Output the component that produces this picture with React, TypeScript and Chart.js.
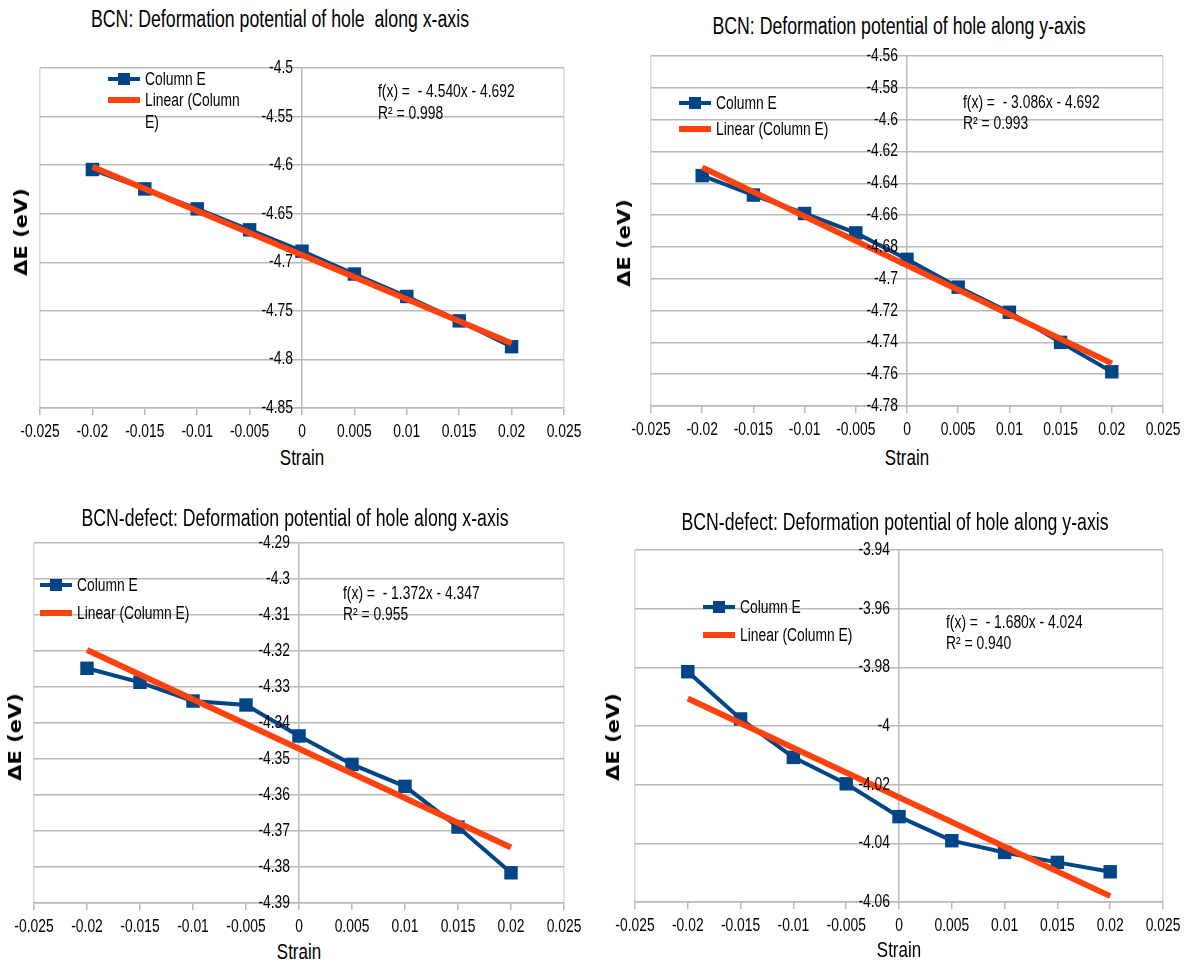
import React, { useEffect, useRef } from "react";
import { Chart, registerables } from "chart.js";
Chart.register(...registerables);

// ---------- data ----------
const strain = [-0.02, -0.015, -0.01, -0.005, 0, 0.005, 0.01, 0.015, 0.02];
const xTicks = [-0.025, -0.02, -0.015, -0.01, -0.005, 0, 0.005, 0.01, 0.015, 0.02, 0.025];
const xTickLabels = ["-0.025", "-0.02", "-0.015", "-0.01", "-0.005", "0", "0.005", "0.01", "0.015", "0.02", "0.025"];
const trendX = [-0.02, 0.02];

const bcnXValues = [-4.6045, -4.6245, -4.645, -4.6666, -4.6886, -4.7121, -4.7352, -4.7603, -4.7869];
const bcnXTrend = [-4.6017, -4.7834];
const bcnXYTicks = [-4.5, -4.55, -4.6, -4.65, -4.7, -4.75, -4.8, -4.85];
const bcnXYLabels = ["-4.5", "-4.55", "-4.6", "-4.65", "-4.7", "-4.75", "-4.8", "-4.85"];

const bcnYValues = [-4.6352, -4.6474, -4.659, -4.6712, -4.6878, -4.7053, -4.7211, -4.74, -4.7585];
const bcnYTrend = [-4.630, -4.7532];
const bcnYYTicks = [-4.56, -4.58, -4.6, -4.62, -4.64, -4.66, -4.68, -4.7, -4.72, -4.74, -4.76, -4.78];
const bcnYYLabels = ["-4.56", "-4.58", "-4.6", "-4.62", "-4.64", "-4.66", "-4.68", "-4.7", "-4.72", "-4.74", "-4.76", "-4.78"];

const defXValues = [-4.3248, -4.3287, -4.3339, -4.335, -4.3436, -4.3515, -4.3576, -4.3689, -4.3816];
const defXTrend = [-4.3197, -4.3746];
const defXYTicks = [-4.29, -4.3, -4.31, -4.32, -4.33, -4.34, -4.35, -4.36, -4.37, -4.38, -4.39];
const defXYLabels = ["-4.29", "-4.3", "-4.31", "-4.32", "-4.33", "-4.34", "-4.35", "-4.36", "-4.37", "-4.38", "-4.39"];

const defYValues = [-3.9815, -3.9976, -4.0107, -4.0197, -4.0309, -4.0391, -4.0431, -4.0465, -4.0497];
const defYTrend = [-3.9906, -4.058];
const defYYTicks = [-3.94, -3.96, -3.98, -4, -4.02, -4.04, -4.06];
const defYYLabels = ["-3.94", "-3.96", "-3.98", "-4", "-4.02", "-4.04", "-4.06"];

const titles = [
  "BCN: Deformation potential of hole  along x-axis",
  "BCN: Deformation potential of hole along y-axis",
  "BCN-defect: Deformation potential of hole along x-axis",
  "BCN-defect: Deformation potential of hole along y-axis",
];
const equations = [
  "f(x) =  - 4.540x - 4.692",
  "f(x) =  - 3.086x - 4.692",
  "f(x) =  - 1.372x - 4.347",
  "f(x) =  - 1.680x - 4.024",
];
const rSquared = ["R² = 0.998", "R² = 0.993", "R² = 0.955", "R² = 0.940"];
const seriesName = "Column E";
const trendName = "Linear (Column E)";
const xTitle = "Strain";
const yTitle = "ΔE (eV)";

// ---------- styling / layout ----------
const BLUE = "#004586";
const ORANGE = "#ff420e";
const GRID = "#b9b9b9";
const FONT = "'Liberation Sans', Arial, sans-serif";
const SX = 0.77; // horizontal squeeze of all text
const TICK_SIZE = 18;
const PAD = 30;
const PT = 14;
const XH = 36;

type Panel = {
  L: number; R: number; T: number; B: number;
  values: number[]; trend: number[]; yTicks: number[]; yLabels: string[];
  title: [number, number]; strain: [number, number]; dE: [number, number];
  legend: [number, number, number]; legendWrap?: boolean;
  eq: [number, number, number];
};

const panels: Panel[] = [
  { L: 40, R: 564, T: 68, B: 408, values: bcnXValues, trend: bcnXTrend, yTicks: bcnXYTicks, yLabels: bcnXYLabels,
    title: [280, 19], strain: [302, 458], dE: [21, 232], legend: [108, 79, 100], legendWrap: true, eq: [378, 91, 113] },
  { L: 651, R: 1163, T: 56, B: 406, values: bcnYValues, trend: bcnYTrend, yTicks: bcnYYTicks, yLabels: bcnYYLabels,
    title: [899, 26], strain: [907, 458], dE: [624, 243], legend: [679, 103, 129], eq: [963, 102, 123] },
  { L: 34, R: 564, T: 543, B: 903, values: defXValues, trend: defXTrend, yTicks: defXYTicks, yLabels: defXYLabels,
    title: [295, 518], strain: [299, 952], dE: [15, 737], legend: [40, 585, 613], eq: [343, 593, 614] },
  { L: 635, R: 1163, T: 550, B: 902, values: defYValues, trend: defYTrend, yTicks: defYYTicks, yLabels: defYYLabels,
    title: [895, 522], strain: [899, 950], dE: [613, 737], legend: [703, 607, 635], eq: [946, 622, 643] },
];

function squeezedText(ctx: CanvasRenderingContext2D, text: string, x: number, y: number, align: CanvasTextAlign) {
  ctx.save();
  ctx.translate(x, y);
  ctx.scale(SX, 1);
  ctx.textAlign = align;
  ctx.fillText(text, 0, 0);
  ctx.restore();
}

const tickLabelPlugin = {
  id: "tickLabels",
  afterDraw(chart: any, _args: any, opts: any) {
    const { ctx, scales } = chart;
    const x0 = scales.x.getPixelForValue(0);
    ctx.save();
    ctx.font = `${TICK_SIZE}px ${FONT}`;
    ctx.fillStyle = "#000";
    ctx.textBaseline = "middle";
    (opts.values as number[]).forEach((v, i) => {
      squeezedText(ctx, opts.labels[i], x0 - 9, scales.y.getPixelForValue(v), "right");
    });
    const yb = scales.y.bottom + 24;
    xTicks.forEach((v, i) => {
      squeezedText(ctx, xTickLabels[i], scales.x.getPixelForValue(v), yb, "center");
    });
    ctx.restore();
  },
};

function ChartPanel({ p }: { p: Panel }) {
  const ref = useRef<HTMLCanvasElement>(null);
  const w = p.R - p.L + 2 * PAD;
  const h = p.B - p.T + PT + XH;
  useEffect(() => {
    const chart = new Chart(ref.current!, {
      type: "scatter",
      data: {
        datasets: [
          {
            label: trendName,
            data: trendX.map((x, i) => ({ x, y: p.trend[i] })),
            showLine: true,
            borderColor: ORANGE,
            backgroundColor: ORANGE,
            borderWidth: 6,
            pointRadius: 0,
            order: 0,
          },
          {
            label: seriesName,
            data: strain.map((x, i) => ({ x, y: p.values[i] })),
            showLine: true,
            borderColor: BLUE,
            backgroundColor: BLUE,
            borderWidth: 4,
            pointStyle: "rect",
            pointRadius: 9.5,
            pointBorderWidth: 0,
            order: 1,
          },
        ],
      } as any,
      options: {
        responsive: false,
        animation: false,
        layout: { padding: { left: PAD, right: PAD, top: PT, bottom: 0 } },
        plugins: {
          legend: { display: false },
          tooltip: { enabled: false },
          title: { display: false },
          tickLabels: { values: p.yTicks, labels: p.yLabels },
        } as any,
        scales: {
          x: {
            type: "linear",
            min: xTicks[0],
            max: xTicks[xTicks.length - 1],
            afterBuildTicks: (s: any) => { s.ticks = xTicks.map((v) => ({ value: v })); },
            afterFit: (s: any) => { s.height = XH; },
            ticks: { display: false },
            grid: {
              color: (c: any) => (c.index === 0 || c.index === xTicks.length - 1 ? "#dadada" : "rgba(0,0,0,0)"),
              lineWidth: 1.5,
              tickColor: GRID,
              tickLength: 7,
            },
            border: { display: true, color: GRID, width: 1.5 },
          },
          y: {
            type: "linear",
            min: Math.min(...p.yTicks),
            max: Math.max(...p.yTicks),
            position: { x: 0 },
            afterBuildTicks: (s: any) => { s.ticks = p.yTicks.map((v) => ({ value: v })); },
            ticks: { display: false },
            grid: { color: GRID, lineWidth: 1.5, drawTicks: false },
            border: { display: true, color: GRID, width: 1.5 },
          },
        } as any,
      },
      plugins: [tickLabelPlugin],
    });
    return () => chart.destroy();
  }, []);
  return (
    <canvas
      ref={ref}
      width={w}
      height={h}
      style={{ position: "absolute", left: p.L - PAD, top: p.T - PT, width: w, height: h }}
    />
  );
}

function Txt({ x, y, text, size, anchor = "center", bold = false, rotate = false, family = FONT, sx = SX }:
  { x: number; y: number; text: string; size: number; anchor?: "center" | "left"; bold?: boolean; rotate?: boolean; family?: string; sx?: number }) {
  const tx = anchor === "center" ? "-50%" : "0";
  const tf = rotate
    ? `translate(-50%, -50%) rotate(-90deg) scaleY(${sx})`
    : `translate(${tx}, -50%) scaleX(${sx})`;
  return (
    <div
      style={{
        position: "absolute",
        left: x,
        top: y,
        transform: tf,
        transformOrigin: anchor === "left" && !rotate ? "0 50%" : "50% 50%",
        fontFamily: family,
        fontSize: size,
        fontWeight: bold ? "bold" : "normal",
        lineHeight: 1,
        whiteSpace: "pre",
        color: "#000",
      }}
    >
      {text}
    </div>
  );
}

function LegendLine({ x, y, color, marker }: { x: number; y: number; color: string; marker: boolean }) {
  return (
    <>
      <div style={{ position: "absolute", left: x, top: y - (marker ? 2 : 3), width: 32, height: marker ? 4 : 6, background: color }} />
      {marker && <div style={{ position: "absolute", left: x + 10, top: y - 6, width: 12, height: 12, background: color }} />}
    </>
  );
}

export default function App() {
  useEffect(() => {
    document.body.style.margin = "0";
  }, []);
  return (
    <div style={{ position: "absolute", left: 0, top: 0, width: 1188, height: 965, background: "#fff", overflow: "hidden" }}>
      {panels.map((p, i) => (
        <React.Fragment key={i}>
          <ChartPanel p={p} />
          <Txt x={p.title[0]} y={p.title[1]} text={titles[i]} size={23} />
          <Txt x={p.strain[0]} y={p.strain[1]} text={xTitle} size={22} />
          <Txt x={p.dE[0]} y={p.dE[1]} text={yTitle} size={21} bold rotate family="'DejaVu Sans', sans-serif" sx={0.88} />
          <LegendLine x={p.legend[0]} y={p.legend[1]} color={BLUE} marker />
          <Txt x={p.legend[0] + 37} y={p.legend[1]} text={seriesName} size={18} anchor="left" />
          <LegendLine x={p.legend[0]} y={p.legend[2]} color={ORANGE} marker={false} />
          {p.legendWrap ? (
            <>
              <Txt x={p.legend[0] + 37} y={p.legend[2]} text={"Linear (Column"} size={18} anchor="left" />
              <Txt x={p.legend[0] + 37} y={p.legend[2] + 22} text={"E)"} size={18} anchor="left" />
            </>
          ) : (
            <Txt x={p.legend[0] + 37} y={p.legend[2]} text={trendName} size={18} anchor="left" />
          )}
          <Txt x={p.eq[0]} y={p.eq[1]} text={equations[i]} size={18} anchor="left" />
          <Txt x={p.eq[0]} y={p.eq[2]} text={rSquared[i]} size={18} anchor="left" />
        </React.Fragment>
      ))}
    </div>
  );
}
